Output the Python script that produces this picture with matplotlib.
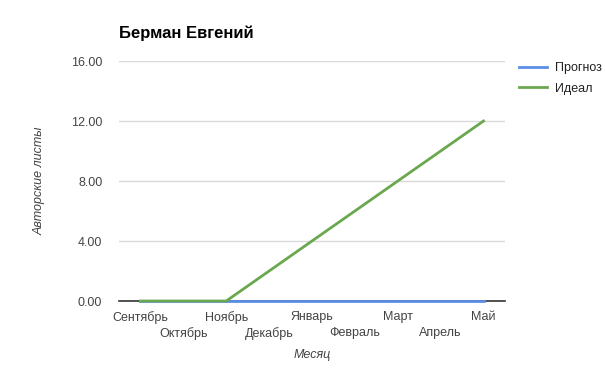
import matplotlib
matplotlib.use("Agg")
import matplotlib.pyplot as plt

months = ["Сентябрь", "Октябрь", "Ноябрь", "Декабрь", "Январь",
          "Февраль", "Март", "Апрель", "Май"]
forecast = [0, 0, 0, 0, 0, 0, 0, 0, 0]
ideal = [0, 0, 0, 2, 4, 6, 8, 10, 12]
yticks = [0, 4, 8, 12, 16]

plt.rcParams['font.family'] = ['Liberation Sans', 'DejaVu Sans']

fig = plt.figure(figsize=(6.05, 3.7), dpi=100)
ax = fig.add_axes([119/605, 69/370, (505-119)/605, (301-61)/370])

x = list(range(len(months)))
l1, = ax.plot(x, forecast, color='#5b8ee6', lw=2, label='Прогноз', zorder=3, clip_on=False)
l2, = ax.plot(x, ideal, color='#6aa84f', lw=2, label='Идеал', zorder=4, clip_on=False)

ax.set_xlim(-0.5, len(months) - 0.5)
ax.set_ylim(0, 16)
ax.set_yticks(yticks)
ax.set_yticklabels([f"{v:.2f}" for v in yticks], color='#444444', fontsize=9)
ax.yaxis.grid(True, color='#d9d9d9', lw=1)
ax.set_axisbelow(True)
ax.axhline(0, color='#333333', lw=1.2, zorder=2, clip_on=False)
for s in ax.spines.values():
    s.set_visible(False)
ax.tick_params(axis='both', which='both', length=0)
ax.tick_params(axis='y', pad=12)

# Alternate rows of month labels: even ones as major ticks, odd as minor ticks
ax.set_xticks(x[0::2])
ax.set_xticklabels(months[0::2], color='#444444', fontsize=9)
ax.set_xticks(x[1::2], minor=True)
ax.set_xticklabels(months[1::2], minor=True, color='#444444', fontsize=9)
ax.tick_params(axis='x', which='major', pad=7)
ax.tick_params(axis='x', which='minor', pad=19)

fig.text(312/605, 1 - 355/370, "Месяц", style='italic', color='#444444', fontsize=9,
         ha='center', va='center')
ax.set_ylabel("Авторские листы", style='italic', color='#444444', fontsize=9, labelpad=18)

fig.text(119/605, 1 - 33/370, "Берман Евгений", fontsize=12, fontweight='bold',
         va='center', ha='left', color='#000000')

fig.legend(handles=[l1, l2], loc='upper left', bbox_to_anchor=(519/605, 1 - 62/370),
           frameon=False, fontsize=9, handlelength=2.2, labelspacing=0.7,
           handletextpad=0.7, borderaxespad=0, borderpad=0, labelcolor='#222222')

fig.savefig("out.png", dpi=100)
